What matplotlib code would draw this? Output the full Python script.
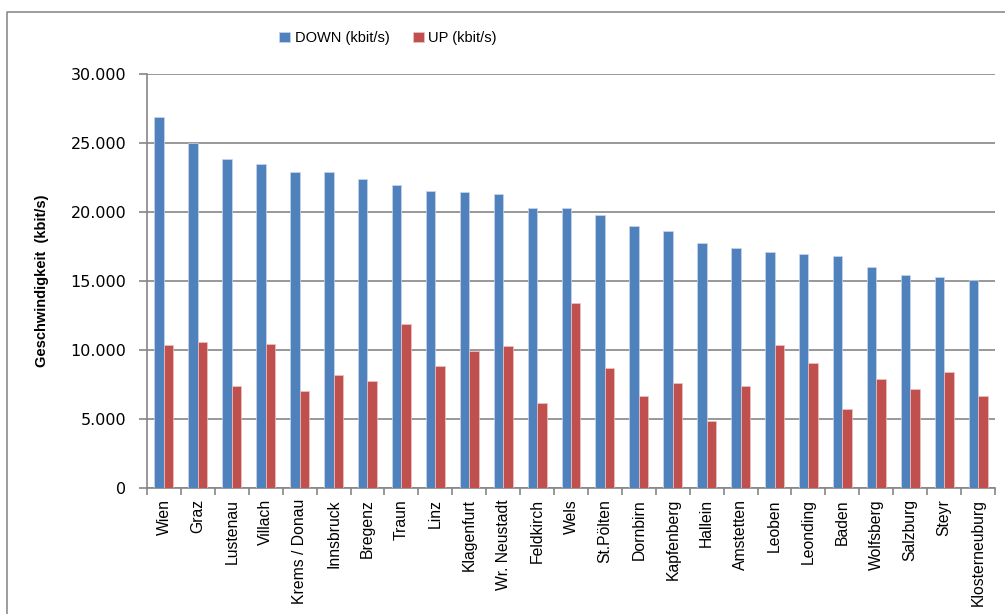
import numpy as np
import matplotlib
matplotlib.use("Agg")
import matplotlib.pyplot as plt
from matplotlib.lines import Line2D
from matplotlib.ticker import FuncFormatter, FixedLocator

plt.rcParams['font.family'] = ['Liberation Sans', 'DejaVu Sans']

# Data
cities = ["Wien", "Graz", "Lustenau", "Villach", "Krems / Donau", "Innsbruck",
          "Bregenz", "Traun", "Linz", "Klagenfurt", "Wr. Neustadt", "Feldkirch",
          "Wels", "St.Pölten", "Dornbirn", "Kapfenberg", "Hallein", "Amstetten",
          "Leoben", "Leonding", "Baden", "Wolfsberg", "Salzburg", "Steyr",
          "Klosterneuburg"]
down = [26860, 25000, 23820, 23450, 22870, 22870, 22370, 21980, 21520, 21430,
        21330, 20270, 20270, 19750, 18970, 18610, 17760, 17370, 17080, 16960,
        16790, 16020, 15430, 15270, 15050]
up = [10360, 10560, 7420, 10460, 7030, 8160, 7780, 11880, 8840, 9930,
      10270, 6180, 13430, 8670, 6640, 7610, 4850, 7410, 10370, 9040,
      5690, 7880, 7150, 8380, 6640]

blue = "#4F81BD"
red = "#C0504D"
grid_col = "#868686"

fig = plt.figure(figsize=(10.05, 6.14), dpi=100)
ax = fig.add_axes([147 / 1005, 126 / 614, 848 / 1005, 414 / 614])

x = np.arange(len(cities))
w = 0.28
ax.bar(x - w / 2, down, w, color=blue, edgecolor="#c9d7ea", linewidth=0.5,
       label="DOWN (kbit/s)", zorder=3)
ax.bar(x + w / 2, up, w, color=red, edgecolor="#ecc5c4", linewidth=0.5,
       label="UP (kbit/s)", zorder=3)

ax.set_xlim(-0.5, len(cities) - 0.5)
ax.set_ylim(0, 30000)
ax.set_yticks(np.arange(0, 30001, 5000))
ax.yaxis.set_major_formatter(FuncFormatter(lambda v, p: f"{v:,.0f}".replace(",", ".")))
ax.yaxis.grid(True, color=grid_col, linewidth=1.2, zorder=0)
for lbl in ax.get_yticklabels():
    lbl.set_family("DejaVu Sans")

# category labels centered, tick marks between categories
ax.set_xticks(x)
ax.set_xticklabels(cities, rotation=90, fontsize=11.3)
ax.tick_params(axis="x", length=0, pad=8)
ax.xaxis.set_minor_locator(FixedLocator(np.arange(-0.5, len(cities), 1.0)))
ax.tick_params(axis="x", which="minor", length=5, color=grid_col, width=1.2)
ax.tick_params(axis="y", length=6, color=grid_col, width=1.2, labelsize=11.5, pad=9)

for s in ["top", "right"]:
    ax.spines[s].set_visible(False)
for s in ["left", "bottom"]:
    ax.spines[s].set_color(grid_col)
    ax.spines[s].set_linewidth(1.2)

ax.set_ylabel("Geschwindigkeit  (kbit/s)", fontsize=10.5, fontweight="bold")
ax.yaxis.set_label_coords(-(147 - 49) / 848, 0.5)

fig.legend(loc="center", bbox_to_anchor=(388 / 1005, 1 - 38 / 614), ncol=2,
           frameon=False, fontsize=10.5, handlelength=0.75, handleheight=0.75,
           handletextpad=0.3, columnspacing=1.6)

# outer chart frame (cut off on right and bottom)
fig.add_artist(Line2D([7 / 1005, 7 / 1005, 1.0], [0, 1 - 12 / 614, 1 - 12 / 614],
                      transform=fig.transFigure, color="#8c8c8c", linewidth=1.2))

fig.savefig("out.png", dpi=100)
